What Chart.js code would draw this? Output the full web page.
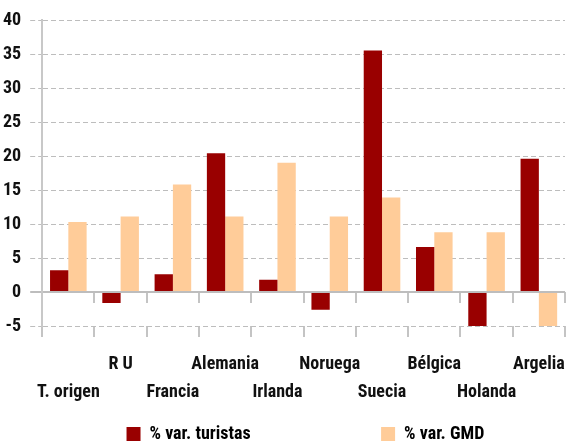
<!DOCTYPE html>
<html>
<head>
<meta charset="utf-8">
<script src="https://cdn.jsdelivr.net/npm/chart.js@4"></script>
<style>
  html, body { margin: 0; padding: 0; background: #ffffff; }
  #wrap { width: 566px; height: 443px; position: relative; }
</style>
</head>
<body>
<div id="wrap"><canvas id="c"></canvas></div>
<script>
const categories = ['T. origen', 'R U', 'Francia', 'Alemania', 'Irlanda', 'Noruega', 'Suecia', 'Bélgica', 'Holanda', 'Argelia'];
const turistas = [3.2, -1.6, 2.6, 20.4, 1.8, -2.6, 35.5, 6.6, -5.1, 19.6];
const gmd = [10.3, 11.1, 15.8, 11.1, 19.0, 11.1, 13.9, 8.8, 8.8, -5.1];
const seriesNames = ['% var. turistas', '% var. GMD'];
const seriesColors = ['#990000', '#ffcc99'];
const yTicks = { min: -5, max: 40, step: 5 };

const FONT_FAMILY = '"Roboto Condensed", "DejaVu Sans Condensed", sans-serif';
const FONT_WEIGHT = 'bold';
const FONT_SIZE = 18;

// two-row staggered category labels
const staggered = categories.map((c, i) => (i % 2 === 0 ? ['', c] : [c, '']));

function padTo(text, width) {
  const ctx = document.createElement('canvas').getContext('2d');
  ctx.font = FONT_WEIGHT + ' ' + FONT_SIZE + 'px ' + FONT_FAMILY;
  let t = text;
  while (ctx.measureText(t + ' ').width <= width) t += ' ';
  return t;
}
const legendWidths = [226, 155];

const isZero = (c) => c.tick && c.tick.value === 0;
const mkFont = (lh) => ({ family: FONT_FAMILY, size: FONT_SIZE, weight: FONT_WEIGHT, lineHeight: lh || 1.2 });

new Chart(document.getElementById('c'), {
  type: 'bar',
  data: {
    labels: staggered,
    datasets: [
      { label: seriesNames[0], data: turistas, backgroundColor: seriesColors[0], xAxisID: 'x' },
      { label: seriesNames[1], data: gmd, backgroundColor: seriesColors[1], xAxisID: 'x' }
    ]
  },
  options: {
    responsive: true,
    maintainAspectRatio: false,
    animation: false,
    categoryPercentage: 0.7,
    barPercentage: 1.0,
    layout: { padding: { top: 20, left: -6, right: 1, bottom: -10 } },
    plugins: {
      title: { display: false },
      tooltip: { enabled: false },
      legend: {
        position: 'bottom',
        align: 'end',
        labels: {
          boxWidth: 14,
          boxHeight: 14,
          padding: 6,
          color: '#111',
          font: mkFont(),
          generateLabels: (chart) => chart.data.datasets.map((ds, i) => ({
            text: padTo(ds.label, legendWidths[i]),
            fillStyle: ds.backgroundColor,
            strokeStyle: ds.backgroundColor,
            lineWidth: 0,
            hidden: false,
            datasetIndex: i
          }))
        }
      }
    },
    scales: {
      x: {
        type: 'category',
        position: 'bottom',
        offset: true,
        afterFit: (s) => { s.paddingLeft = 0; s.paddingRight = 0; },
        border: { display: false },
        grid: {
          offset: true,
          drawOnChartArea: false,
          drawTicks: true,
          tickLength: 11,
          tickWidth: 2,
          tickColor: '#c4c4c4',
          color: '#c4c4c4',
          lineWidth: 2
        },
        ticks: {
          autoSkip: false,
          maxRotation: 0,
          minRotation: 0,
          padding: 13,
          color: '#111',
          font: mkFont(28 / FONT_SIZE)
        }
      },
      x2: {
        type: 'category',
        position: { y: 0 },
        offset: true,
        border: { display: false },
        grid: {
          offset: true,
          drawOnChartArea: false,
          drawTicks: true,
          tickLength: 11,
          tickWidth: 2,
          tickColor: '#c4c4c4',
          color: '#c4c4c4',
          lineWidth: 2
        },
        ticks: { display: false }
      },
      y: {
        min: yTicks.min,
        max: yTicks.max,
        border: {
          display: true,
          color: '#c8c8c8',
          width: 2,
          dash: (c) => (isZero(c) ? [] : [5, 3])
        },
        grid: {
          color: '#bdbdbd',
          lineWidth: (c) => (isZero(c) ? 2 : 1),
          tickLength: 12,
          tickBorderDash: (c) => (isZero(c) ? [] : [5, 3])
        },
        ticks: {
          stepSize: yTicks.step,
          padding: 9,
          color: '#111',
          font: mkFont()
        }
      }
    }
  }
});
</script>
</body>
</html>
